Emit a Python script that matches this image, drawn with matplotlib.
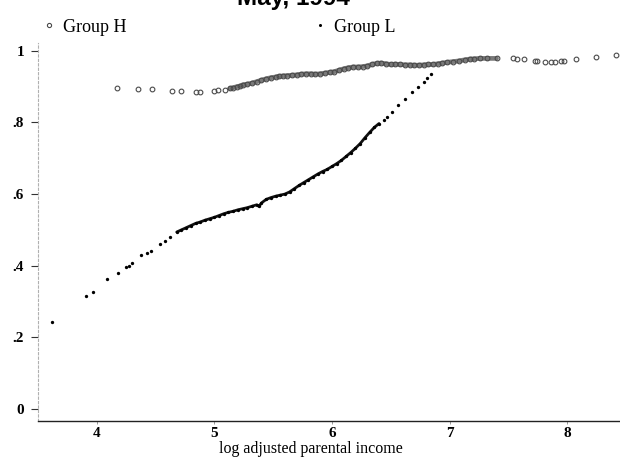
import numpy as np
import matplotlib.pyplot as plt
from matplotlib.lines import Line2D

# Group H: share by log adjusted parental income
h_x = [4.17, 4.35, 4.47, 4.64, 4.72, 4.84, 4.88, 5.00, 5.03, 5.09, 5.13, 5.16,
       5.19, 5.22, 5.24, 5.28, 5.32, 5.36, 5.40, 5.44, 5.48, 5.52, 5.55, 5.58,
       5.62, 5.66, 5.70, 5.74, 5.78, 5.82, 5.86, 5.90, 5.94, 5.98, 6.02, 6.06,
       6.10, 6.14, 6.18, 6.22, 6.26, 6.30, 6.34, 6.38, 6.42, 6.46, 6.50, 6.54,
       6.58, 6.62, 6.66, 6.70, 6.74, 6.78, 6.82, 6.86, 6.90, 6.94, 6.98, 7.03,
       7.08, 7.13, 7.17, 7.21, 7.26, 7.32, 7.40, 7.54, 7.57, 7.63, 7.73, 7.74,
       7.81, 7.86, 7.90, 7.95, 7.97, 8.08, 8.25, 8.42]
h_y = [.896, .893, .893, .887, .887, .884, .885, .889, .890, .892, .895, .897,
       .900, .902, .905, .907, .910, .914, .918, .922, .925, .927, .929, .930,
       .931, .932, .933, .935, .936, .936, .935, .936, .938, .940, .942, .946,
       .950, .953, .955, .955, .956, .958, .962, .965, .966, .964, .962, .963,
       .962, .961, .961, .960, .960, .961, .962, .962, .964, .966, .968, .970,
       .972, .975, .977, .978, .979, .979, .979, .979, .978, .978, .973, .973,
       .970, .970, .970, .971, .972, .976, .982, .989]

# Group L
l_x = [3.62, 3.91, 3.97, 4.09, 4.18, 4.25, 4.27, 4.30, 4.38, 4.43, 4.46, 4.54,
       4.58, 4.62, 4.68, 4.72, 4.76, 4.80, 4.84, 4.88, 4.92, 4.96, 5.00, 5.04,
       5.08, 5.12, 5.16, 5.20, 5.24, 5.28, 5.32, 5.36, 5.38, 5.40, 5.44, 5.48,
       5.52, 5.56, 5.60, 5.64, 5.68, 5.72, 5.76, 5.80, 5.84, 5.88, 5.92, 5.96,
       6.00, 6.04, 6.08, 6.12, 6.16, 6.20, 6.24, 6.28, 6.32, 6.36, 6.40, 6.44,
       6.47, 6.51, 6.56, 6.62, 6.68, 6.73, 6.78, 6.81, 6.84]
l_y = [.243, .316, .327, .363, .380, .397, .400, .408, .430, .436, .441, .461,
       .470, .480, .494, .500, .506, .512, .518, .522, .527, .531, .535, .540,
       .545, .549, .552, .556, .559, .562, .566, .570, .566, .575, .585, .590,
       .594, .597, .600, .606, .615, .624, .632, .640, .648, .656, .663, .669,
       .677, .685, .694, .705, .716, .728, .741, .757, .772, .786, .797, .808,
       .816, .830, .849, .866, .884, .900, .914, .924, .936]

x_ticks = [4, 5, 6, 7, 8]
y_ticks = [0, .2, .4, .6, .8, 1]
y_labels = ['0', '.2', '.4', '.6', '.8', '1']

serif = 'Liberation Serif'

fig = plt.figure(figsize=(6.2, 4.59), dpi=100)
ax = fig.add_axes([0.0613, 0.0828, 0.9387, 0.8235])

# where the points pile up they read as a solid band
h_dense = slice(10, 67)
l_dense = slice(14, 59)
ax.plot(h_x[h_dense], h_y[h_dense], '-', lw=3.4, color='#7a7a7a',
        solid_capstyle='round')
ax.plot(l_x[l_dense], l_y[l_dense], '-', lw=2.0, color='#111111',
        solid_capstyle='round')

ax.plot(h_x, h_y, 'o', ms=3.4, mfc='none', mec='#4a4a4a', mew=0.8)
ax.plot(l_x, l_y, 'o', ms=2.4, mfc='black', mec='black', mew=0)

ax.set_xlim(3.50, 8.45)
ax.set_ylim(-0.034, 1.022)

ax.set_xticks(x_ticks)
ax.set_yticks(y_ticks)
ax.set_yticklabels(y_labels)
for lab in ax.get_xticklabels() + ax.get_yticklabels():
    lab.set_fontfamily(serif)
    lab.set_fontsize(11)
    lab.set_fontweight('bold')
ax.tick_params(axis='y', length=5, width=0.8, pad=5, color='#333333')
ax.tick_params(axis='x', length=2, width=0.6, pad=2, color='#888888')

ax.spines['top'].set_visible(False)
ax.spines['right'].set_visible(False)
ax.spines['left'].set_color('#b0b0b0')
ax.spines['left'].set_linestyle((0, (2, 2)))
ax.spines['left'].set_linewidth(0.8)
ax.spines['bottom'].set_color('#222222')
ax.spines['bottom'].set_linewidth(1.0)

ax.set_xlabel('log adjusted parental income', fontfamily=serif, fontsize=11.5,
              va='top')
ax.xaxis.set_label_coords(0.469, -0.052)

fig.text(0.474, 0.989, 'May, 1994', ha='center', va='baseline',
         fontsize=17.5, fontweight='bold', fontfamily='Liberation Sans')

handles = [Line2D([], [], ls='', marker='o', ms=3.0, mfc='white', mec='#4a4a4a', mew=0.8),
           Line2D([], [], ls='', marker='o', ms=2.2, mfc='black', mec='black', mew=0)]
fig.legend(handles, ['Group H', 'Group L'], loc='upper left',
           bbox_to_anchor=(0.058, 0.975), ncol=2, frameon=False,
           prop={'family': serif, 'size': 13}, handlelength=0.6,
           handletextpad=0.5, columnspacing=10.4, borderaxespad=0)

fig.savefig('out.png', dpi=100)
